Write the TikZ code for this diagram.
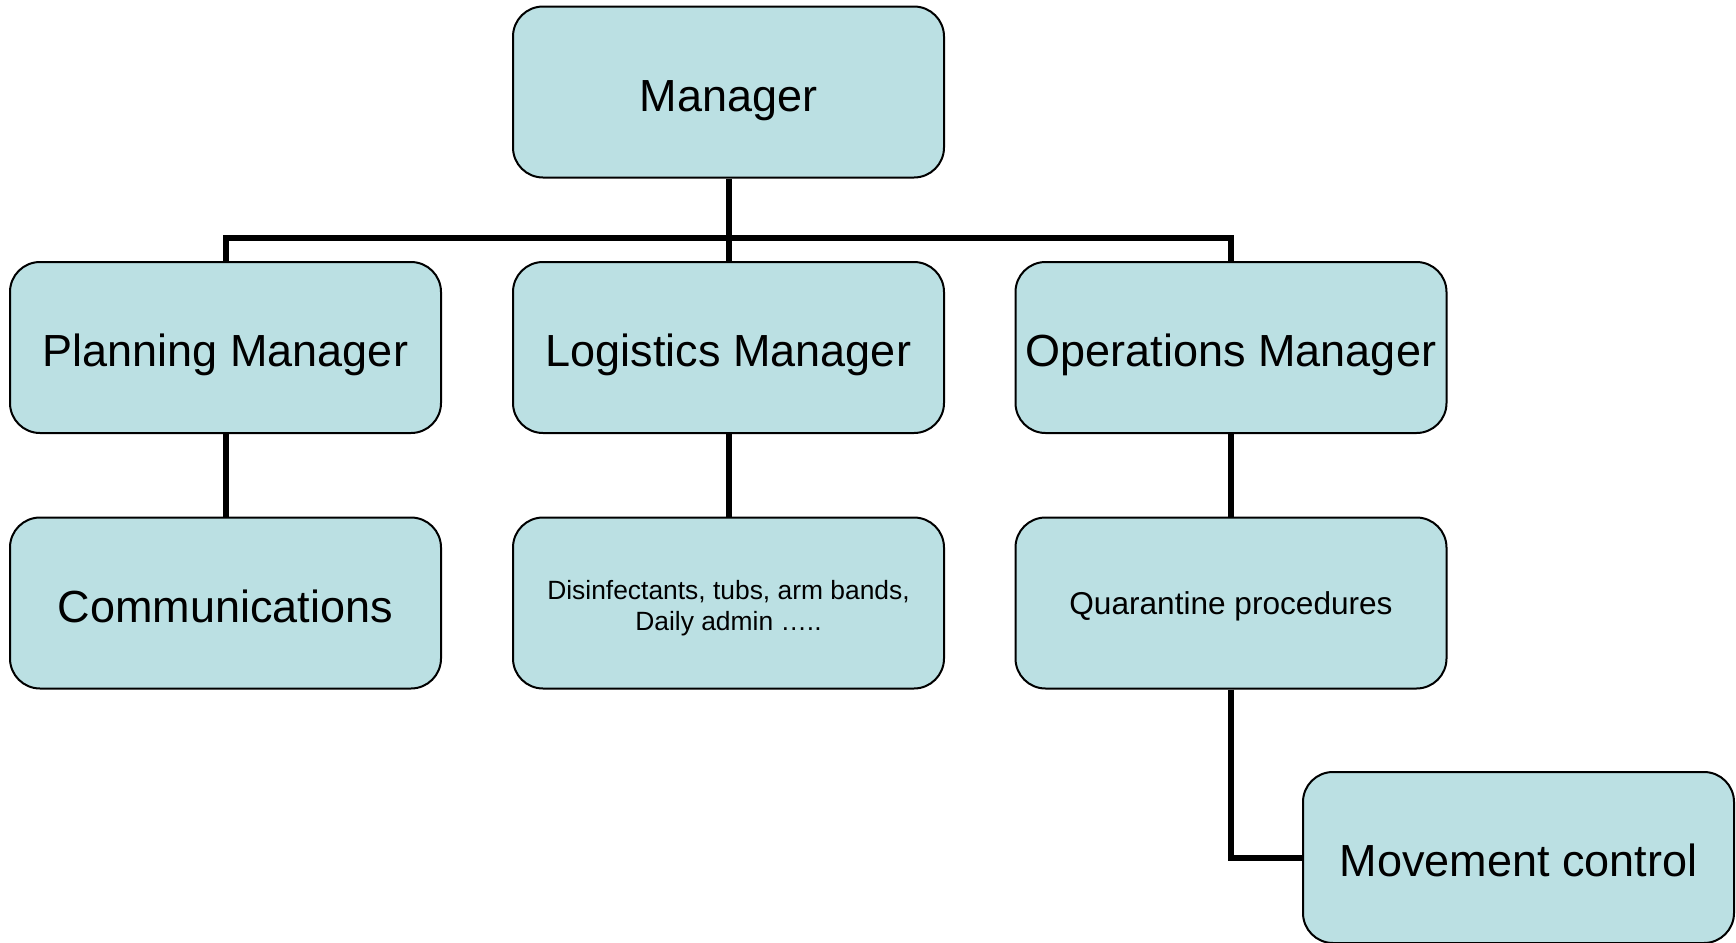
\documentclass[tikz,border=0pt]{standalone}
\usepackage{fontspec}
\setmainfont{Liberation Sans}
\definecolor{boxfill}{RGB}{187,224,227}
\tikzset{
  orgbox/.style={draw=black, line width=1pt, fill=boxfill, rounded corners=15pt,
    minimum width=215.5pt, minimum height=85.5pt, inner sep=2pt, align=center,
    font=\fontsize{22.5}{27}\selectfont, text height=22pt, text depth=3pt},
  quarbox/.style={orgbox, font=\fontsize{15.8}{19}\selectfont, text height=14pt, text depth=2.4pt},
  smallbox/.style={draw=black, line width=1pt, fill=boxfill, rounded corners=15pt,
    minimum width=215.5pt, minimum height=85.5pt, inner sep=2pt},
  smalltext/.style={align=center, font=\fontsize{13.2}{15.5}\selectfont, yshift=-2.5pt},
  conn/.style={draw=black, line width=3pt}
}
\begin{document}
\begin{tikzpicture}[x=0.5pt,y=-0.5pt]
\useasboundingbox (0,0) rectangle (1736,943);
\node[orgbox] (mgr) at (728.5,92) {Manager};
\node[orgbox] (plan) at (225.5,347.5) {Planning Manager};
\node[orgbox] (log) at (728.5,347.5) {Logistics Manager};
\node[orgbox] (ops) at (1231,347.5) {Operations Manager};
\node[orgbox] (comm) at (225.5,603) {Communications};
\node[smallbox, label={[smalltext]center:Disinfectants, tubs, arm bands,\\Daily admin …..}] (dis) at (728.5,603) {};
\node[quarbox] (quar) at (1231,603) {Quarantine procedures};
\node[orgbox] (move) at (1518.5,857.5) {Movement control};
\coordinate (bar) at (0,238);
\draw[conn] (mgr.south) -- (mgr.south |- bar);
\draw[conn] (plan.north) |- (ops.north |- bar) -- (ops.north);
\draw[conn] (log.north) -- (log.north |- bar);
\draw[conn] (plan.south) -- (comm.north);
\draw[conn] (log.south) -- (dis.north);
\draw[conn] (ops.south) -- (quar.north);
\draw[conn] (quar.south) |- (move.west);
\end{tikzpicture}
\end{document}
